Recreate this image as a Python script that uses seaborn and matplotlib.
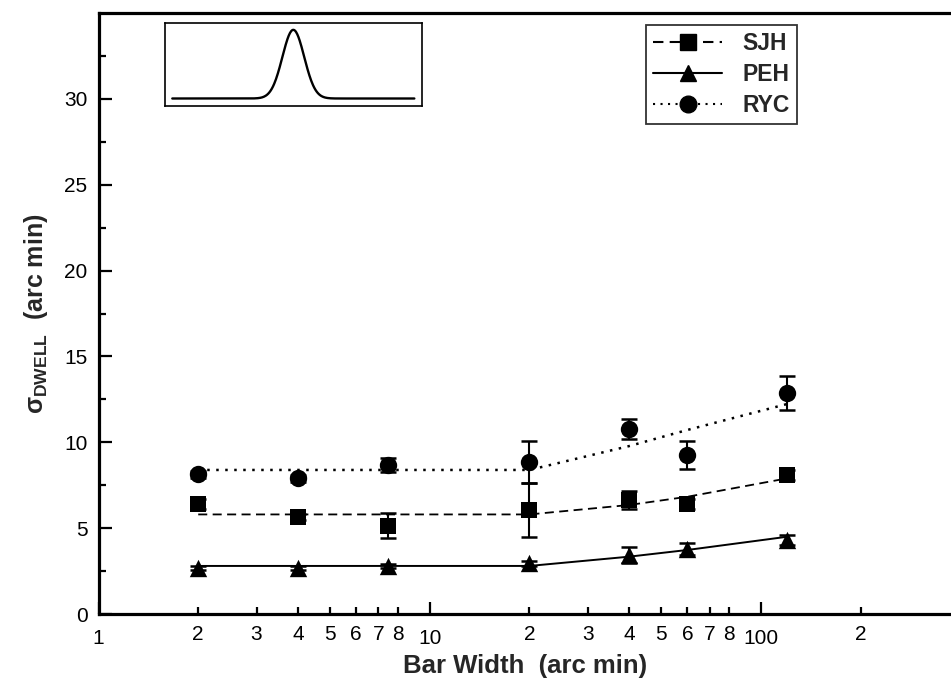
import numpy as np
import pandas as pd
import matplotlib
matplotlib.use("Agg")
import matplotlib.pyplot as plt
from matplotlib.lines import Line2D
from matplotlib.ticker import FixedLocator, FixedFormatter, NullFormatter
import seaborn as sns

# ---- data ----
bar_width = [2, 4, 7.5, 20, 40, 60, 120]
sjh = [6.40, 5.65, 5.14, 6.06, 6.64, 6.41, 8.10]
sjh_err = [0.30, 0.20, 0.72, 1.55, 0.55, 0.30, 0.30]
peh = [2.68, 2.68, 2.80, 2.95, 3.45, 3.79, 4.30]
peh_err = [0.10, 0.10, 0.10, 0.15, 0.45, 0.37, 0.30]
ryc = [8.15, 7.90, 8.68, 8.87, 10.77, 9.26, 12.89]
ryc_err = [0.20, 0.20, 0.39, 1.22, 0.57, 0.80, 1.00]

fit_x = [2, 20, 40, 60, 120]
sjh_fit = [5.80, 5.80, 6.35, 6.83, 7.90]
peh_fit = [2.80, 2.80, 3.34, 3.73, 4.50]
ryc_fit = [8.39, 8.39, 9.78, 10.72, 12.23]

subjects = ["SJH", "PEH", "RYC"]
x_tick_vals = [1, 2, 3, 4, 5, 6, 7, 8, 10, 20, 30, 40, 50, 60, 70, 80, 100, 200]
x_tick_labels = ["1", "2", "3", "4", "5", "6", "7", "8", "10",
                 "2", "3", "4", "5", "6", "7", "8", "100", "2"]
y_ticks = [0, 5, 10, 15, 20, 25, 30]

sns.set_theme(style="ticks")
plt.rcParams["font.family"] = ["Liberation Sans", "DejaVu Sans"]
plt.rcParams["mathtext.fontset"] = "custom"
plt.rcParams["mathtext.rm"] = "Liberation Sans"
plt.rcParams["mathtext.bf"] = "Liberation Sans:bold"
plt.rcParams["mathtext.default"] = "regular"

fig = plt.figure(figsize=(9.51, 6.79), dpi=100)
ax = fig.add_axes([0.1036, 0.0957, 0.8964, 0.8851])

styles = {
    "SJH": dict(marker="s", ls=(0, (5, 3)), lw=1.3, ms=11.5),
    "PEH": dict(marker="^", ls="-", lw=1.4, ms=12.5),
    "RYC": dict(marker="o", ls=(0, (1, 2.6)), lw=1.8, ms=12.5),
}
vals = {"SJH": (sjh, sjh_err, sjh_fit), "PEH": (peh, peh_err, peh_fit),
        "RYC": (ryc, ryc_err, ryc_fit)}

for name in subjects:
    y, e, f = vals[name]
    st = styles[name]
    fdf = pd.DataFrame({"x": fit_x, "y": f})
    sns.lineplot(data=fdf, x="x", y="y", ax=ax, color="black",
                 linewidth=st["lw"], zorder=2, legend=False)
    ax.lines[-1].set_linestyle(st["ls"])
    ax.errorbar(bar_width, y, yerr=e, fmt="none", ecolor="black",
                elinewidth=1.5, capsize=6, capthick=1.8, zorder=3)
    ddf = pd.DataFrame({"x": bar_width, "y": y})
    sns.scatterplot(data=ddf, x="x", y="y", ax=ax, color="black",
                    marker=st["marker"], s=st["ms"] ** 2, edgecolor="black",
                    linewidth=0, zorder=4, legend=False)

ax.set_xscale("log")
ax.set_xlim(1, 375)
ax.set_ylim(0, 35)

ax.xaxis.set_major_locator(FixedLocator([1, 10, 100]))
ax.xaxis.set_major_formatter(FixedFormatter(["1", "10", "100"]))
minor_vals = [v for v in x_tick_vals if v not in (1, 10, 100)]
minor_labels = [l for v, l in zip(x_tick_vals, x_tick_labels) if v not in (1, 10, 100)]
ax.xaxis.set_minor_locator(FixedLocator(minor_vals))
ax.xaxis.set_minor_formatter(FixedFormatter(minor_labels))

ax.yaxis.set_major_locator(FixedLocator(y_ticks))
ax.yaxis.set_minor_locator(FixedLocator([2.5, 7.5, 12.5, 17.5, 22.5, 27.5, 32.5]))
ax.yaxis.set_minor_formatter(NullFormatter())

ax.tick_params(axis="both", which="major", direction="in", length=9, width=1.6,
               labelsize=15, color="black", labelcolor="black")
ax.tick_params(axis="both", which="minor", direction="in", length=5, width=1.6,
               labelsize=15, color="black", labelcolor="black")
ax.tick_params(axis="x", which="major", pad=11)
ax.tick_params(axis="x", which="minor", pad=8)
ax.tick_params(axis="y", which="major", pad=8)

for s in ["left", "bottom", "top"]:
    ax.spines[s].set_linewidth(2.3)
    ax.spines[s].set_color("black")
ax.spines["right"].set_visible(False)
ax.set_facecolor("white")

ax.set_xlabel("Bar Width  (arc min)", fontsize=18.5, fontweight="bold", labelpad=4)
ax.set_ylabel(r"$\sigma_{DWELL}$  (arc min)", fontsize=18, fontweight="bold", labelpad=10)

# legend
handles = []
for name in subjects:
    st = styles[name]
    handles.append(Line2D([], [], color="black", linestyle=st["ls"], linewidth=1.5,
                          marker=st["marker"], markersize=st["ms"] - 0.5,
                          markerfacecolor="black", markeredgecolor="black"))
leg = ax.legend(handles, subjects, loc="upper right", bbox_to_anchor=(0.819, 0.98),
                prop={"weight": "bold", "size": 16.5}, handlelength=3.0,
                handletextpad=0.9, labelspacing=0.35, borderpad=0.3,
                frameon=True, fancybox=False, borderaxespad=0)
leg.get_frame().set_edgecolor("black")
leg.get_frame().set_linewidth(1.3)

# inset stimulus profile
ins = ax.inset_axes([0.078, 0.845, 0.301, 0.138])
prof_x = np.linspace(-1, 1, 400)
prof_y = np.exp(-prof_x ** 2 / (2 * 0.09 ** 2))
sns.lineplot(x=prof_x, y=prof_y, ax=ins, color="black", linewidth=1.7)
ins.set_xlim(-1.06, 1.06)
ins.set_ylim(-0.112, 1.096)
ins.set_xticks([])
ins.set_yticks([])
ins.set_xlabel("")
ins.set_ylabel("")
for s in ins.spines.values():
    s.set_linewidth(1.2)
    s.set_color("black")
    s.set_visible(True)

fig.savefig("out.png", dpi=100, facecolor="white")
